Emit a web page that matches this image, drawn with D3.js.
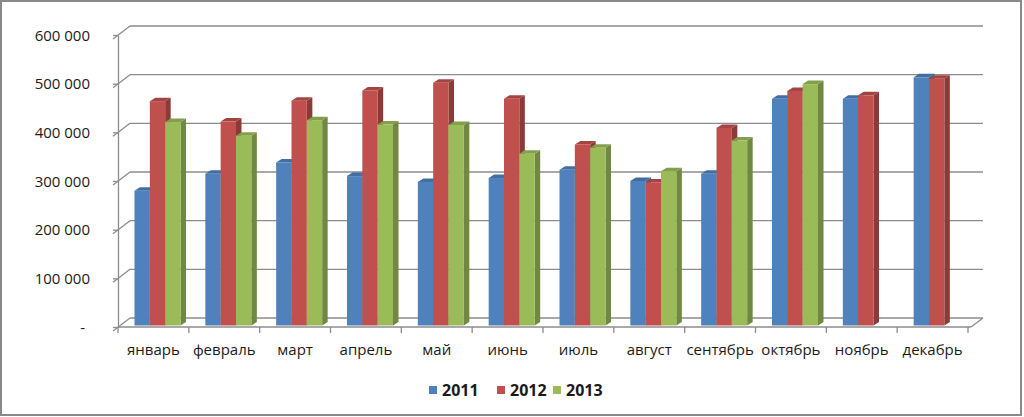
<!DOCTYPE html>
<html>
<head>
<meta charset="utf-8">
<script src="https://cdn.jsdelivr.net/npm/d3@7"></script>
<style>
  html, body { margin: 0; padding: 0; background: #fff; }
  svg { display: block; font-family: 'Open Sans', 'DejaVu Sans', sans-serif; }
</style>
</head>
<body>
<svg id="chart" width="1024" height="417"></svg>
<script>
// chart data
const months = ['январь', 'февраль', 'март', 'апрель', 'май', 'июнь',
	'июль', 'август', 'сентябрь', 'октябрь', 'ноябрь', 'декабрь'];
const years = ['2011', '2012', '2013'];
const values2011 = [277000, 312000, 335000, 307000, 295000, 303000, 320000, 297000, 312000, 466000, 466000, 510000];
const values2012 = [461000, 419000, 462000, 483000, 499000, 466000, 372000, 294000, 406000, 482000, 473000, 507000];
const values2013 = [418000, 390000, 422000, 413000, 412000, 353000, 365000, 317000, 380000, 496000, null, null];
const yTicks = [0, 100000, 200000, 300000, 400000, 500000, 600000];

const seriesValues = [values2011, values2012, values2013];
const colors = ['#4f81bd', '#c0504d', '#9bbb59'];

const svg = d3.select('#chart');
const W = 1024, H = 417;

// front plane of the plot, back wall offset (3D depth)
const plotLeft = 118, plotRight = 968, plotBottom = 327, plotTop = 35;
const wall = { dx: 12, dy: -9 };
const barDepth = { dx: 5.5, dy: -3.5 };
const barShift = { dx: 1.5, dy: -1.5 };

const y = d3.scaleLinear().domain([0, 600000]).range([plotBottom, plotTop]);
const x0 = d3.scaleBand().domain(months).range([plotLeft, plotRight]);
const x1 = d3.scaleBand().domain(years).range([15, 61]);

const locale = d3.formatLocale({ decimal: ',', thousands: ' ', grouping: [3], currency: ['', ''] });
const fmt = locale.format(',');

// outer frame
svg.append('rect')
	.attr('x', 1).attr('y', 1)
	.attr('width', W - 4).attr('height', H - 3)
	.attr('fill', '#fff')
	.attr('stroke', '#898989')
	.attr('stroke-width', 2);

const grid = svg.append('g')
	.attr('stroke', '#8c8c8c')
	.attr('stroke-width', 1.3)
	.attr('fill', 'none');

// back wall gridlines + side wall diagonals
yTicks.forEach(t => {
	const yy = y(t);
	grid.append('line')
		.attr('x1', plotLeft + wall.dx).attr('y1', yy + wall.dy)
		.attr('x2', plotRight + 15).attr('y2', yy + wall.dy);
	grid.append('line')
		.attr('x1', plotLeft - 5).attr('y1', yy + 4)
		.attr('x2', plotLeft + wall.dx).attr('y2', yy + wall.dy);
});

// floor: front edge and right diagonal
grid.append('line')
	.attr('x1', plotLeft).attr('y1', plotBottom)
	.attr('x2', plotRight + 3).attr('y2', plotBottom);
grid.append('line')
	.attr('x1', plotRight + 3).attr('y1', plotBottom)
	.attr('x2', plotRight + 15).attr('y2', plotBottom + wall.dy);

// category ticks at band boundaries
const boundaries = months.map(m => x0(m)).concat([x0.range()[1]]);
grid.selectAll('.ctick')
	.data(boundaries)
	.join('line')
	.attr('x1', d => d).attr('x2', d => d)
	.attr('y1', plotBottom).attr('y2', plotBottom + 6);

// bars
const bars = [];
months.forEach((m, i) => {
	years.forEach((yr, s) => {
		const v = seriesValues[s][i];
		if (v == null) return;
		bars.push({ m, yr, s, v });
	});
});

const barG = svg.append('g');
bars.forEach(b => {
	const base = d3.color(colors[b.s]);
	const bx = x0(b.m) + x1(b.yr) + barShift.dx;
	const bw = x1.bandwidth();
	const by = y(b.v) + barShift.dy;
	const bb = y(0) + barShift.dy;
	const g = barG.append('g');
	// side face
	g.append('path')
		.attr('d', `M${bx + bw},${bb} L${bx + bw + barDepth.dx},${bb + barDepth.dy} L${bx + bw + barDepth.dx},${by + barDepth.dy} L${bx + bw},${by} Z`)
		.attr('fill', base.darker(0.9));
	// top face
	g.append('path')
		.attr('d', `M${bx},${by} L${bx + barDepth.dx},${by + barDepth.dy} L${bx + bw + barDepth.dx},${by + barDepth.dy} L${bx + bw},${by} Z`)
		.attr('fill', base.darker(0.45));
	// front face
	g.append('rect')
		.attr('x', bx).attr('y', by)
		.attr('width', bw).attr('height', bb - by)
		.attr('fill', base);
});

// value axis (front)
const yAxis = svg.append('g')
	.attr('transform', `translate(${plotLeft},0)`)
	.call(d3.axisLeft(y).tickValues(yTicks).tickSize(5).tickSizeOuter(0).tickPadding(23)
		.tickFormat(d => d === 0 ? '-' : fmt(d)));
yAxis.select('.domain').attr('stroke', '#8c8c8c').attr('stroke-width', 1.3);
yAxis.selectAll('.tick line').attr('stroke', '#8c8c8c').attr('stroke-width', 1.3);
yAxis.selectAll('.tick text')
	.attr('font-size', 15)
	.attr('fill', '#1a1a1a')
	.attr('font-family', "'Open Sans', sans-serif")
	.attr('dx', d => d === 0 ? -5 : 0)
	.attr('dy', '0.34em');

// category axis labels
const xAxis = svg.append('g')
	.attr('transform', `translate(0,${plotBottom})`)
	.call(d3.axisBottom(x0).tickSize(0).tickPadding(17));
xAxis.select('.domain').remove();
xAxis.selectAll('.tick text')
	.attr('font-size', 15)
	.attr('fill', '#1a1a1a')
	.attr('font-family', "'Open Sans', sans-serif");

// legend
const legendX = [429, 497, 553];
const legend = svg.append('g');
years.forEach((yr, s) => {
	legend.append('rect')
		.attr('x', legendX[s]).attr('y', 386)
		.attr('width', 8).attr('height', 8)
		.attr('fill', colors[s]);
	legend.append('text')
		.attr('x', legendX[s] + 13).attr('y', 395.5)
		.attr('font-size', 16)
		.attr('font-weight', 'bold')
		.attr('fill', '#1a1a1a')
		.text(yr);
});
</script>
</body>
</html>
